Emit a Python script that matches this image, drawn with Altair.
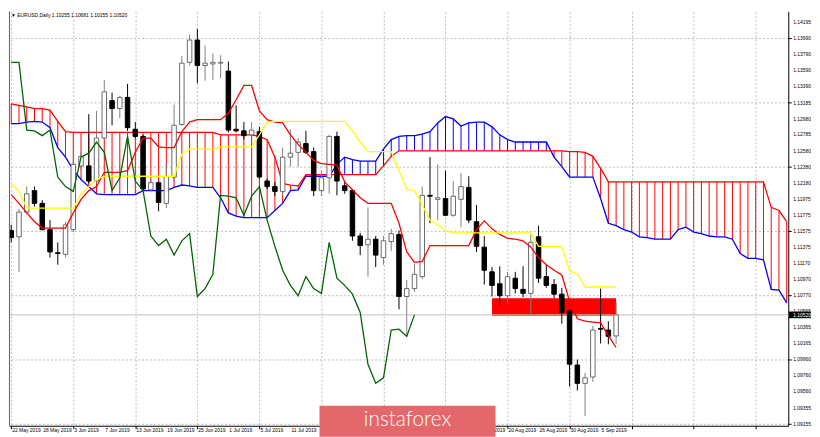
import altair as alt
import pandas as pd

# ---------------- data ----------------
date_labels = ["22 May 2019", "28 May 2019", "3 Jun 2019", "7 Jun 2019", "13 Jun 2019",
               "19 Jun 2019", "25 Jun 2019", "1 Jul 2019", "5 Jul 2019", "11 Jul 2019",
               "17 Jul 2019", "23 Jul 2019", "29 Jul 2019", "2 Aug 2019", "8 Aug 2019",
               "14 Aug 2019", "20 Aug 2019", "26 Aug 2019", "30 Aug 2019", "5 Sep 2019"]
date_bars = [0, 4, 8, 12, 16, 20, 24, 28, 32, 36, 40, 44, 48, 52, 56, 60, 64, 68, 72, 76]
# labels hidden under the watermark in the reference
hidden_bars = [44, 48, 52, 56]
grid_bars = [0, 4, 8, 12, 16, 20, 24, 28, 32, 36, 40, 44, 48, 52, 56, 60, 64, 68, 72, 76,
             80, 84, 88, 92, 96, 100]

price_ticks = [1.14195, 1.13990, 1.13790, 1.13590, 1.13390, 1.13185, 1.12980, 1.12785,
               1.12580, 1.12380, 1.12180, 1.11975, 1.11775, 1.11575, 1.11375, 1.11170,
               1.10970, 1.10770, 1.10565, 1.10365, 1.10165, 1.09960, 1.09760, 1.09560,
               1.09355, 1.09155]

opens = [1.1158, 1.1150, 1.1181, 1.1208, 1.1192, 1.1159, 1.1130, 1.1128, 1.1159, 1.1239,
         1.1239, 1.1220, 1.1274, 1.1321, 1.1311, 1.1325, 1.1285, 1.1276, 1.1209, 1.1218,
         1.1192, 1.1225, 1.1291, 1.1369, 1.1397, 1.1365, 1.1367, 1.1368, 1.1358, 1.1285,
         1.1283, 1.1278, 1.1282, 1.1220, 1.1213, 1.1207, 1.1250, 1.1256, 1.1267, 1.1257,
         1.1208, 1.1224, 1.1276, 1.1214, 1.1208, 1.1151, 1.1140, 1.1147, 1.1124, 1.1144,
         1.1153, 1.1075, 1.1085, 1.1100, 1.1202, 1.1197, 1.1198, 1.1177, 1.1197, 1.1212,
         1.1169, 1.1137, 1.1106, 1.1091, 1.1076, 1.1098, 1.1084, 1.1079, 1.1150, 1.1100,
         1.1090, 1.1078, 1.1057, 1.0989, 1.0966, 1.0974, 1.1035, 1.1033, 1.10255]
highs = [1.1165, 1.1185, 1.1213, 1.1213, 1.1196, 1.1171, 1.1143, 1.1169, 1.1244, 1.1256,
         1.1304, 1.1308, 1.1347, 1.1331, 1.1327, 1.1342, 1.1294, 1.1278, 1.1223, 1.1220,
         1.1241, 1.1316, 1.1377, 1.1404, 1.1411, 1.1390, 1.1380, 1.1378, 1.1370, 1.1315,
         1.1294, 1.1294, 1.1288, 1.1223, 1.1219, 1.1262, 1.1285, 1.1274, 1.1283, 1.1262,
         1.1233, 1.1278, 1.1282, 1.1220, 1.1210, 1.1155, 1.1187, 1.1151, 1.1151, 1.1160,
         1.1158, 1.1096, 1.1116, 1.1213, 1.1250, 1.1241, 1.1233, 1.1220, 1.1230, 1.1226,
         1.1190, 1.1151, 1.1112, 1.1113, 1.1106, 1.1106, 1.1113, 1.1153, 1.1164, 1.1115,
         1.1097, 1.1086, 1.1059, 1.0996, 1.0979, 1.1038, 1.1085, 1.1044, 1.10681]
lows = [1.1143, 1.1106, 1.1178, 1.1188, 1.1158, 1.1124, 1.1115, 1.1124, 1.1156, 1.1235,
        1.1217, 1.1217, 1.1272, 1.1290, 1.1299, 1.1283, 1.1274, 1.1208, 1.1207, 1.1182,
        1.1186, 1.1221, 1.1289, 1.1365, 1.1343, 1.1346, 1.1347, 1.1349, 1.1281, 1.1281,
        1.1272, 1.1274, 1.1223, 1.1210, 1.1201, 1.1202, 1.1238, 1.1238, 1.1254, 1.1201,
        1.1201, 1.1204, 1.1202, 1.1204, 1.1145, 1.1127, 1.1100, 1.1112, 1.1115, 1.1132,
        1.1059, 1.1026, 1.1081, 1.1097, 1.1167, 1.1171, 1.1176, 1.1175, 1.1162, 1.1167,
        1.1131, 1.1090, 1.1075, 1.1065, 1.1065, 1.1079, 1.1074, 1.1051, 1.1092, 1.1086,
        1.1073, 1.1041, 1.0962, 1.0957, 1.0925, 1.0968, 1.1016, 1.1015, 1.10155]
closes = [1.1149, 1.1181, 1.1204, 1.1192, 1.1159, 1.1131, 1.1129, 1.1165, 1.1241, 1.1251,
          1.1220, 1.1274, 1.1332, 1.1311, 1.1325, 1.1287, 1.1276, 1.1210, 1.1218, 1.1193,
          1.1226, 1.1290, 1.1368, 1.1397, 1.1365, 1.1368, 1.1369, 1.1369, 1.1284, 1.1283,
          1.1277, 1.1284, 1.1225, 1.1213, 1.1207, 1.1250, 1.1255, 1.1269, 1.1256, 1.1208,
          1.1224, 1.1276, 1.1220, 1.1208, 1.1151, 1.1139, 1.1147, 1.1127, 1.1145, 1.1154,
          1.1075, 1.1085, 1.1103, 1.1202, 1.1201, 1.1199, 1.1177, 1.1201, 1.1213, 1.1171,
          1.1138, 1.1108, 1.1089, 1.1076, 1.1100, 1.1085, 1.1079, 1.1143, 1.1098, 1.1089,
          1.1078, 1.1055, 1.0990, 1.0966, 1.0973, 1.1033, 1.1034, 1.1025, 1.10520]

tenkan = [1.1203, 1.1192, 1.1180, 1.1169, 1.1161, 1.1161, 1.1161, 1.1161, 1.1180, 1.1197,
          1.1208, 1.1213, 1.1231, 1.1231, 1.1231, 1.1233, 1.1256, 1.1274, 1.1274, 1.1263,
          1.1262, 1.1262, 1.1282, 1.1294, 1.1297, 1.1297, 1.1297, 1.1297, 1.1305, 1.1322,
          1.1340, 1.1340, 1.1308, 1.1297, 1.1294, 1.1293, 1.1278, 1.1266, 1.1256, 1.1246,
          1.1242, 1.1241, 1.1240, 1.1219, 1.1209, 1.1199, 1.1192, 1.1192, 1.1192, 1.1192,
          1.1167, 1.1131, 1.1118, 1.1119, 1.1139, 1.1139, 1.1139, 1.1139, 1.1139, 1.1139,
          1.1159, 1.1170, 1.1160, 1.1153, 1.1148, 1.1147, 1.1145, 1.1137, 1.1124, 1.1115,
          1.1108, 1.1102, 1.1069, 1.1047, 1.1044, 1.1043, 1.1042, 1.1026, 1.1011]
kijun = [1.1217, 1.1207, 1.1186, 1.1186, 1.1186, 1.1186, 1.1186, 1.1186, 1.1186, 1.1204,
         1.1213, 1.1222, 1.1226, 1.1226, 1.1226, 1.1226, 1.1226, 1.1226, 1.1226, 1.1226,
         1.1226, 1.1226, 1.1254, 1.1260, 1.1260, 1.1260, 1.1260, 1.1263, 1.1263, 1.1263,
         1.1263, 1.1263, 1.1278, 1.1294, 1.1295, 1.1295, 1.1295, 1.1295, 1.1295, 1.1295,
         1.1295, 1.1295, 1.1295, 1.1295, 1.1283, 1.1269, 1.1257, 1.1257, 1.1257, 1.1257,
         1.1234, 1.1210, 1.1208, 1.1190, 1.1171, 1.1165, 1.1158, 1.1155, 1.1155, 1.1155,
         1.1155, 1.1155, 1.1155, 1.1155, 1.1155, 1.1155, 1.1155, 1.1155, 1.1138, 1.1138,
         1.1138, 1.1138, 1.1107, 1.1103, 1.1087, 1.1087, 1.1087, 1.1087, 1.1087]
chikou = [1.1369, 1.1369, 1.1284, 1.1283, 1.1277, 1.1284, 1.1225, 1.1213, 1.1207, 1.1250,
          1.1255, 1.1269, 1.1256, 1.1208, 1.1224, 1.1276, 1.1220, 1.1208, 1.1151, 1.1139,
          1.1147, 1.1127, 1.1145, 1.1154, 1.1075, 1.1085, 1.1103, 1.1202, 1.1201, 1.1199,
          1.1177, 1.1201, 1.1213, 1.1171, 1.1138, 1.1108, 1.1089, 1.1076, 1.1100, 1.1085,
          1.1079, 1.1143, 1.1098, 1.1089, 1.1078, 1.1055, 1.0990, 1.0966, 1.0973, 1.1033,
          1.1034, 1.1025, 1.1052]
span_a = [1.1292, 1.1292, 1.1294, 1.1295, 1.1294, 1.1287, 1.1262, 1.1250, 1.1234, 1.1222,
          1.1213, 1.1204, 1.1203, 1.1203, 1.1203, 1.1203, 1.1203, 1.1208, 1.1208, 1.1208,
          1.1208, 1.1212, 1.1215, 1.1214, 1.1212, 1.1212, 1.1212, 1.1199, 1.1180, 1.1176,
          1.1174, 1.1174, 1.1174, 1.1174, 1.1183, 1.1192, 1.1208, 1.1209, 1.1226, 1.1226,
          1.1226, 1.1226, 1.1241, 1.1250, 1.1247, 1.1245, 1.1245, 1.1245, 1.1260, 1.1272,
          1.1276, 1.1277, 1.1277, 1.1279, 1.1282, 1.1293, 1.1301, 1.1298, 1.1289, 1.1293,
          1.1294, 1.1294, 1.1288, 1.1278, 1.1272, 1.1269, 1.1269, 1.1269, 1.1269, 1.1269,
          1.1250, 1.1238, 1.1225, 1.1225, 1.1225, 1.1225, 1.1198, 1.1167, 1.1164, 1.1159,
          1.1156, 1.1150, 1.1149, 1.1147, 1.1147, 1.1147, 1.1159, 1.1162, 1.1156, 1.1154,
          1.1151, 1.1150, 1.1150, 1.1147, 1.1129, 1.1123, 1.1123, 1.1121, 1.1084, 1.1083,
          1.1067]
span_b = [1.1317, 1.1315, 1.1313, 1.1311, 1.1311, 1.1309, 1.1295, 1.1282, 1.1281, 1.1281,
          1.1281, 1.1281, 1.1281, 1.1281, 1.1281, 1.1281, 1.1281, 1.1281, 1.1281, 1.1281,
          1.1281, 1.1281, 1.1281, 1.1281, 1.1281, 1.1281, 1.1281, 1.1278, 1.1278, 1.1278,
          1.1278, 1.1278, 1.1276, 1.1272, 1.1250, 1.1217, 1.1215, 1.1214, 1.1228, 1.1228,
          1.1228, 1.1228, 1.1228, 1.1228, 1.1228, 1.1228, 1.1228, 1.1228, 1.1239, 1.1251,
          1.1258, 1.1258, 1.1258, 1.1258, 1.1258, 1.1258, 1.1258, 1.1258, 1.1258, 1.1258,
          1.1258, 1.1258, 1.1258, 1.1258, 1.1258, 1.1258, 1.1258, 1.1258, 1.1258, 1.1258,
          1.1258, 1.1258, 1.1257, 1.1257, 1.1256, 1.1251, 1.1236, 1.1219, 1.1219, 1.1219,
          1.1219, 1.1219, 1.1219, 1.1219, 1.1219, 1.1219, 1.1219, 1.1219, 1.1219, 1.1219,
          1.1219, 1.1219, 1.1219, 1.1219, 1.1219, 1.1219, 1.1219, 1.1219, 1.1187, 1.1183,
          1.1169]

zone_bars = [62, 78]
zone_prices = [1.1073, 1.1051]
last_price = 1.10520
title_text = "\u25bc EURUSD,Daily 1.10255 1.10681 1.10155 1.10520"
logo_text = "instaforex"

# ---------------- frames ----------------
n_bars = len(closes)
bars = pd.DataFrame({"i": list(range(n_bars)), "open": opens, "high": highs,
                     "low": lows, "close": closes})
lines = pd.DataFrame({"i": list(range(n_bars)), "tenkan": tenkan, "kijun": kijun})
lag = pd.DataFrame({"i": list(range(len(chikou))), "chikou": chikou})
cloud = pd.DataFrame({"i": list(range(len(span_a))), "a": span_a, "b": span_b})
zone = pd.DataFrame({"x1": [zone_bars[0]], "x2": [zone_bars[1]],
                     "y1": [zone_prices[0]], "y2": [zone_prices[1]]})
price_df = pd.DataFrame({"p": [last_price], "lbl": [f"{last_price:.5f}"]})
ylab_df = pd.DataFrame({"v": price_ticks})
xlab_df = pd.DataFrame({"i": date_bars, "t": date_labels})
xlab_df = xlab_df[~xlab_df["i"].isin(hidden_bars)]

X_DOMAIN = [-0.29, 100.2]
Y_DOMAIN = [1.09128, 1.1433]
W, H = 788, 419
FONT = "Liberation Sans"
FS = 5

xscale = alt.Scale(domain=X_DOMAIN, nice=False, zero=False)
yscale = alt.Scale(domain=Y_DOMAIN, nice=False, zero=False)

xaxis = alt.Axis(values=grid_bars, labels=False, orient="bottom",
                 tickSize=3, tickColor="#000000", domainColor="#000000",
                 grid=True, gridColor="#bdbdbd", gridDash=[2, 2], gridWidth=1,
                 title=None)
yaxis = alt.Axis(values=price_ticks, labels=False, orient="right",
                 tickSize=3, tickColor="#000000", domainColor="#000000",
                 grid=True, gridColor="#bdbdbd", gridDash=[2, 2], gridWidth=1,
                 title=None)


def X(field):
    return alt.X(field, type="quantitative", scale=xscale, axis=xaxis)


def Y(field):
    return alt.Y(field, type="quantitative", scale=yscale, axis=yaxis)


# ---------------- layers ----------------
hatch = alt.Chart(cloud).mark_rule(strokeWidth=1, clip=True).encode(
    x=X("i"), y=Y("a"), y2="b",
    color=alt.condition(alt.datum.b > alt.datum.a, alt.value("#ff0000"), alt.value("#0000ff")),
)
line_a = alt.Chart(cloud).mark_line(color="#0000ff", strokeWidth=1.3, clip=True).encode(
    x=X("i"), y=Y("a"))
line_b = alt.Chart(cloud).mark_line(color="#ff0000", strokeWidth=1.3, clip=True).encode(
    x=X("i"), y=Y("b"))

zone_rect = alt.Chart(zone).mark_rect(color="#ff0000", clip=True).encode(
    x=X("x1"), x2="x2", y=Y("y1"), y2="y2")

price_line = alt.Chart(price_df).mark_rule(color="#c0c0c0", strokeWidth=1).encode(
    y=Y("p"))

wicks = alt.Chart(bars).mark_rule(strokeWidth=1, clip=True).encode(
    x=X("i"), y=Y("low"), y2="high",
    color=alt.condition(alt.datum.close >= alt.datum.open, alt.value("#808080"), alt.value("#000000")),
)
bodies = alt.Chart(bars).transform_calculate(
    xl="datum.i - 0.29", xr="datum.i + 0.29"
).mark_rect(strokeWidth=1, clip=True).encode(
    x=X("xl"), x2="xr", y=Y("open"), y2="close",
    fill=alt.condition(alt.datum.close >= alt.datum.open, alt.value("#ffffff"), alt.value("#000000")),
    stroke=alt.condition(alt.datum.close >= alt.datum.open, alt.value("#6a6a6a"), alt.value("#000000")),
)

tenkan_line = alt.Chart(lines).mark_line(color="#ff0000", strokeWidth=1.3, clip=True).encode(
    x=X("i"), y=Y("tenkan"))
kijun_line = alt.Chart(lines).mark_line(color="#ffff00", strokeWidth=1.3, clip=True).encode(
    x=X("i"), y=Y("kijun"))
chikou_line = alt.Chart(lag).mark_line(color="#006400", strokeWidth=1.3, clip=True).encode(
    x=X("i"), y=Y("chikou"))

left_border = alt.Chart(price_df).mark_rule(color="#606060", strokeWidth=1).encode(
    x=alt.value(0.5), y=alt.value(0), y2=alt.value(H))

title_mark = alt.Chart(price_df).mark_text(
    text=title_text, align="left", baseline="top", font=FONT, fontSize=FS,
    color="#000000", dx=2, dy=2
).encode(x=alt.datum(X_DOMAIN[0], scale=xscale), y=alt.datum(Y_DOMAIN[1], scale=yscale))

# axis labels as text placed through the scales
ylabels = alt.Chart(ylab_df).mark_text(
    align="left", baseline="middle", font=FONT, fontSize=FS, color="#000000", dx=5
).encode(x=alt.datum(X_DOMAIN[1], scale=xscale), y=Y("v"),
         text=alt.Text("v:Q", format=".5f"))
xlabels = alt.Chart(xlab_df).mark_text(
    align="left", baseline="top", font=FONT, fontSize=FS, color="#000000", dx=1, dy=2
).encode(x=X("i"), y=alt.datum(Y_DOMAIN[0], scale=yscale), text="t:N")

# price tag on the right axis
tag_box = alt.Chart(price_df).transform_calculate(
    x1="100.3", x2="103.1", y1="datum.p + 0.00042", y2="datum.p - 0.00042"
).mark_rect(color="#000000", clip=False).encode(
    x=X("x1"), x2="x2", y=Y("y1"), y2="y2")
tag_text = alt.Chart(price_df).mark_text(
    align="left", baseline="middle", font=FONT, fontSize=FS, color="#ffffff", dx=5
).encode(x=alt.datum(X_DOMAIN[1], scale=xscale), y=Y("p"), text="lbl:N")

# watermark
logo_df = pd.DataFrame({"x1": [39.75], "x2": [62.45], "y1": [1.0938], "y2": [1.0899],
                        "tx": [51.1], "ty": [1.0912], "t": [logo_text]})
logo_box = alt.Chart(logo_df).mark_rect(color="#e4676b", clip=False).encode(
    x=X("x1"), x2="x2", y=Y("y1"), y2="y2")
logo_txt = alt.Chart(logo_df).mark_text(
    align="center", baseline="alphabetic", font="Lato", fontWeight=300, fontSize=21,
    color="#ffffff", clip=False
).encode(x=X("tx"), y=Y("ty"), text="t:N")

chart = alt.layer(
    hatch, line_a, line_b, zone_rect, price_line, wicks, bodies,
    tenkan_line, kijun_line, chikou_line, left_border, title_mark,
    ylabels, xlabels, tag_box, tag_text, logo_box, logo_txt
).properties(
    width=W, height=H, padding={"left": 0, "top": 0, "right": 0, "bottom": 0},
    background="#ffffff"
).configure_view(stroke=None)

chart.save("out.html", embed_options={"renderer": "svg", "actions": False})
